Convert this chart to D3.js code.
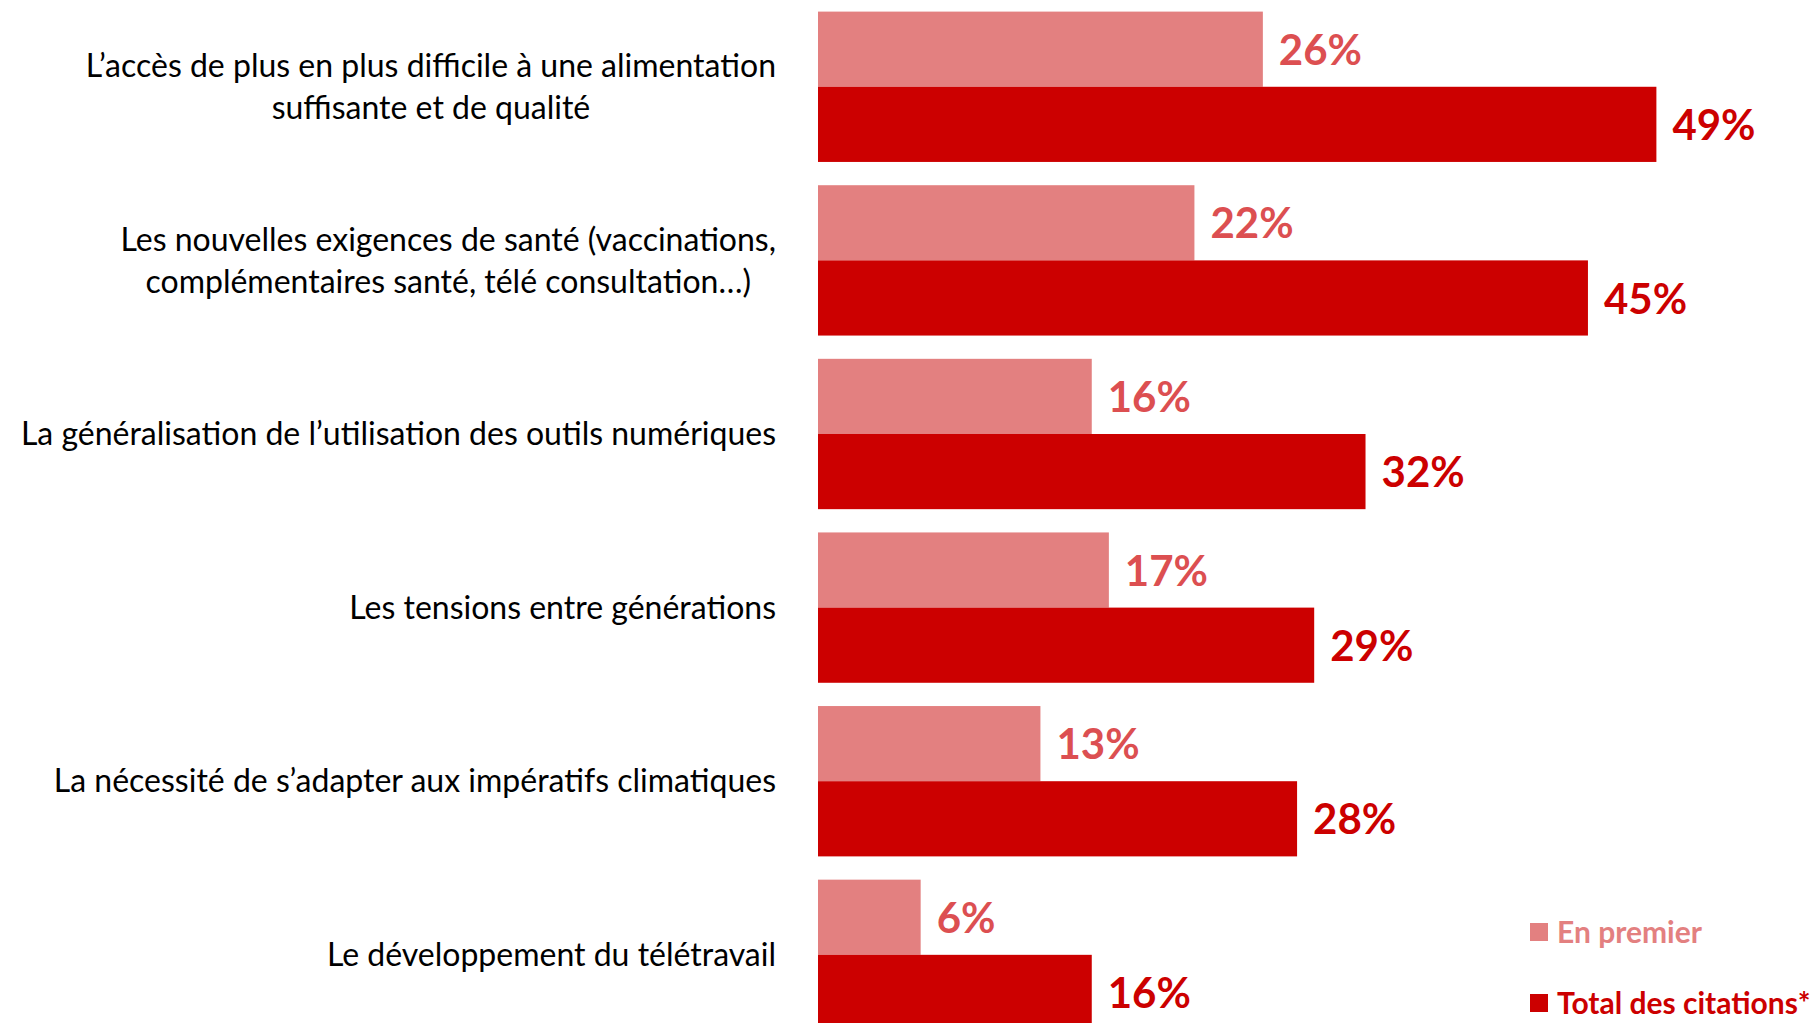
<!DOCTYPE html>
<html>
<head>
<meta charset="utf-8">
<script src="https://cdn.jsdelivr.net/npm/d3@7"></script>
<style>
  body { margin: 0; background: #fff; }
  svg { display: block; font-family: Lato, "Open Sans", sans-serif; }
</style>
</head>
<body>
<div id="chart"></div>
<script>
// categories (each line of a label is one entry)
const categories = [
  ["L\u2019accès de plus en plus difficile à une alimentation", "suffisante et de qualité"],
  ["Les nouvelles exigences de santé (vaccinations,", "complémentaires santé, télé consultation\u2026)"],
  ["La généralisation de l\u2019utilisation des outils numériques"],
  ["Les tensions entre générations"],
  ["La nécessité de s\u2019adapter aux impératifs climatiques"],
  ["Le développement du télétravail"]
];
const enPremier = [26, 22, 16, 17, 13, 6];
const totalCitations = [49, 45, 32, 29, 28, 16];
const seriesNames = ["En premier", "Total des citations*"];

const width = 1815, height = 1023;
const pink = "#e38080", pinkText = "#dc4f51", red = "#cc0000";

const svg = d3.select("#chart").append("svg")
  .attr("width", width).attr("height", height);

// Scales
const y = d3.scaleBand()
  .domain(d3.range(categories.length))
  .range([11.6, 1030])
  .paddingInner(0.134)
  .paddingOuter(0);

const ySub = d3.scaleBand()
  .domain([0, 1])
  .range([0, y.bandwidth()]);

const x = d3.scaleLinear().domain([0, 50]).range([818, 1673.5]);

const rows = categories.map((c, i) => ({
  label: c,
  values: [enPremier[i], totalCitations[i]]
}));

const group = svg.selectAll("g.row").data(rows).join("g")
  .attr("class", "row")
  .attr("transform", (d, i) => `translate(0,${y(i)})`);

// Bars
group.selectAll("rect").data(d => d.values).join("rect")
  .attr("x", x(0))
  .attr("y", (d, j) => ySub(j))
  .attr("width", d => x(d) - x(0))
  .attr("height", ySub.bandwidth())
  .attr("fill", (d, j) => j === 0 ? pink : red);

// Value labels
group.selectAll("text.val").data(d => d.values).join("text")
  .attr("class", "val")
  .attr("x", d => x(d) + 16)
  .attr("y", (d, j) => ySub(j) + ySub.bandwidth() / 2 + 1)
  .attr("dy", "0.35em")
  .style("font-size", "42px")
  .style("font-weight", "bold")
  .style("fill", (d, j) => j === 0 ? pinkText : red)
  .text(d => d + "%");

// Category labels: block right-aligned at labelRight, lines centered in it
const lineH = 42, labelRight = 776;
group.append("text")
  .attr("class", "cat")
  .attr("text-anchor", "middle")
  .style("font-size", "32px")
  .style("fill", "#000")
  .each(function (d) {
    const t = d3.select(this);
    const n = d.label.length;
    const spans = d.label.map((line, k) =>
      t.append("tspan")
        .attr("y", y.bandwidth() / 2 + (k - (n - 1) / 2) * lineH)
        .attr("dy", "0.35em")
        .text(line));
    const w = d3.max(spans, s => s.node().getComputedTextLength());
    spans.forEach(s => s.attr("x", labelRight - w / 2));
  });

// Legend
const legend = svg.append("g").attr("transform", "translate(1530,0)");
const legendY = [932, 1003];
seriesNames.forEach((name, j) => {
  legend.append("rect")
    .attr("x", 0)
    .attr("y", legendY[j] - 9)
    .attr("width", 18)
    .attr("height", 18)
    .attr("fill", j === 0 ? pink : red);
  legend.append("text")
    .attr("x", 27)
    .attr("y", legendY[j])
    .attr("dy", "0.35em")
    .style("font-size", "30px")
    .style("font-weight", "bold")
    .style("fill", j === 0 ? pink : red)
    .text(name);
});
</script>
</body>
</html>
